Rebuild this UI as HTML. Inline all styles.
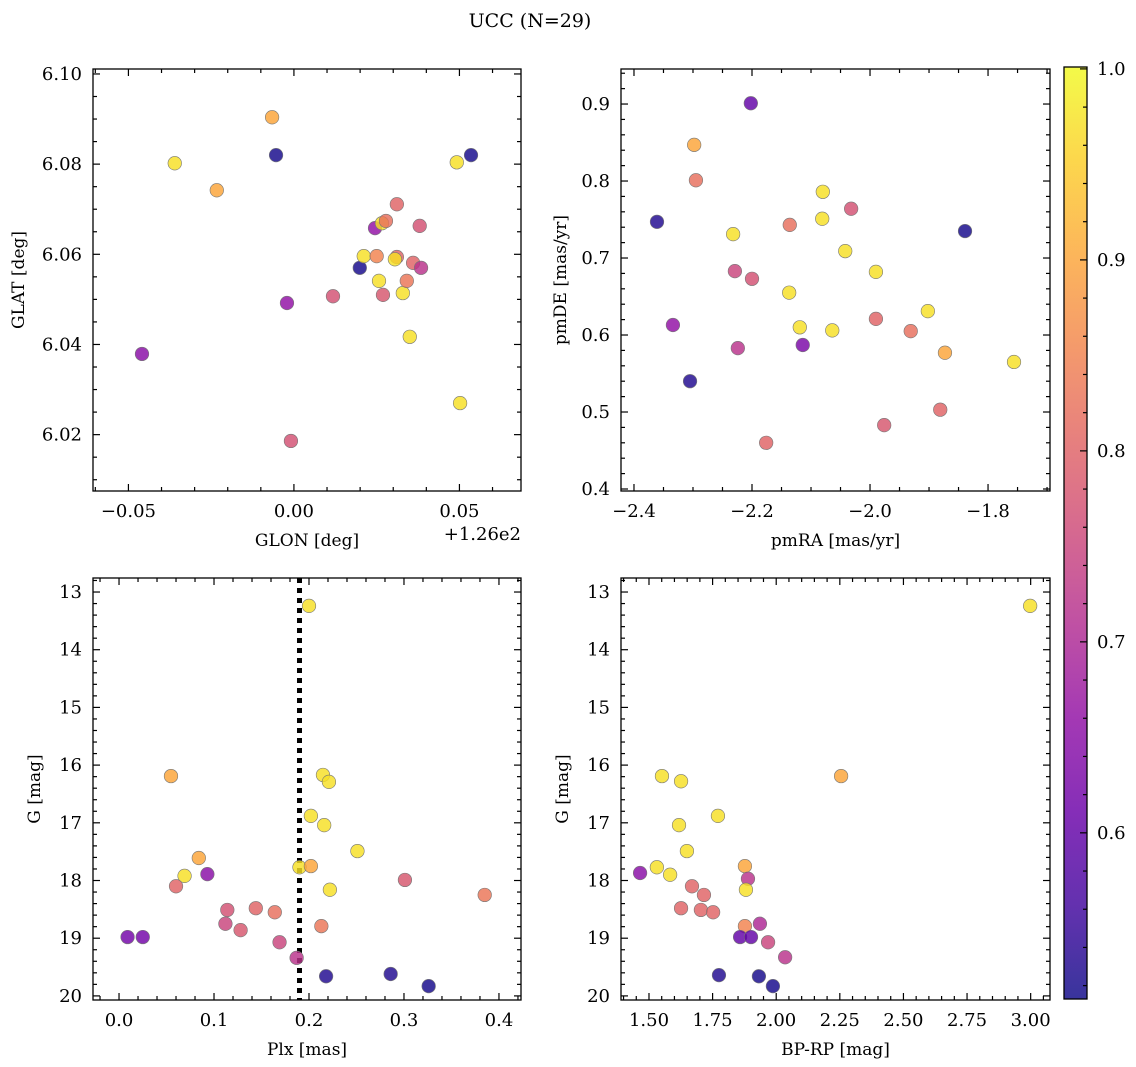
<!DOCTYPE html>
<html><head><meta charset="utf-8">
<style>
html,body{margin:0;padding:0;background:#fff;}
svg{display:block;font-family:"DejaVu Serif","Liberation Serif",serif;}
</style></head>
<body>
<svg id="chart" width="1136" height="1067" viewBox="0 0 1136 1067" xmlns="http://www.w3.org/2000/svg">
<text x="530" y="27" font-size="19" text-anchor="middle">UCC (N=29)</text>
</svg>
<script>
// Panel 1: GLON offset (deg, +126) vs GLAT
const p1x=[-0.036,-0.0233,-0.0066,-0.0054,-0.0459,-0.0021,-0.0009,0.0118,0.0199,0.0211,0.0245,0.025,0.0257,0.0266,0.0269,0.0278,0.0311,0.0311,0.0305,0.0329,0.0341,0.035,0.036,0.038,0.0384,0.0492,0.0535,0.0502];
const p1y=[6.0802,6.0742,6.0904,6.0820,6.0379,6.0492,6.0186,6.0507,6.0570,6.0596,6.0658,6.0596,6.0541,6.0669,6.0510,6.0674,6.0711,6.0594,6.0589,6.0514,6.0541,6.0417,6.0581,6.0663,6.0570,6.0804,6.0820,6.0270];
const p1c=[0.97,0.9,0.9,0.52,0.65,0.66,0.77,0.77,0.52,0.97,0.66,0.85,0.97,0.97,0.78,0.82,0.8,0.8,0.97,0.97,0.83,0.97,0.8,0.77,0.72,0.97,0.52,0.97];
// Panel 2: pmRA vs pmDE
const p2x=[-2.202,-2.298,-2.295,-2.361,-2.232,-2.229,-2.2,-2.224,-2.334,-2.305,-2.176,-2.136,-2.137,-2.119,-2.114,-2.080,-2.081,-2.032,-2.042,-2.064,-1.990,-1.990,-1.976,-1.931,-1.902,-1.873,-1.881,-1.839,-1.756];
const p2y=[0.901,0.847,0.801,0.747,0.731,0.683,0.673,0.583,0.613,0.540,0.460,0.743,0.655,0.610,0.587,0.786,0.751,0.764,0.709,0.606,0.682,0.621,0.483,0.605,0.631,0.577,0.503,0.735,0.565];
const p2c=[0.6,0.9,0.82,0.53,0.97,0.75,0.77,0.72,0.66,0.53,0.8,0.82,0.97,0.97,0.63,0.97,0.97,0.77,0.97,0.97,0.97,0.8,0.78,0.82,0.97,0.9,0.8,0.52,0.97];
// Panel 3: Plx vs G
const p3x=[0.2,0.0547,0.2147,0.221,0.202,0.216,0.251,0.084,0.069,0.093,0.06,0.19,0.202,0.222,0.301,0.385,0.114,0.144,0.164,0.112,0.128,0.213,0.169,0.009,0.025,0.187,0.218,0.286,0.326];
const p3y=[13.24,16.19,16.17,16.29,16.88,17.04,17.49,17.61,17.92,17.89,18.10,17.77,17.75,18.16,17.99,18.25,18.51,18.48,18.55,18.75,18.86,18.79,19.07,18.98,18.98,19.34,19.66,19.62,19.83];
const p3c=[0.97,0.9,0.97,0.97,0.97,0.97,0.97,0.9,0.97,0.65,0.8,0.97,0.9,0.97,0.78,0.83,0.77,0.8,0.82,0.75,0.78,0.83,0.75,0.62,0.62,0.72,0.53,0.53,0.52];
const plxLine=[0.19];
// Panel 4: BP-RP vs G
const p4x=[2.998,1.551,1.626,2.255,1.618,1.771,1.649,1.531,1.583,1.465,1.669,1.877,1.889,1.881,1.716,1.626,1.704,1.752,1.877,1.936,1.858,1.901,1.968,2.035,1.775,1.932,1.987];
const p4y=[13.24,16.19,16.28,16.19,17.04,16.88,17.49,17.77,17.90,17.87,18.10,17.75,17.97,18.16,18.25,18.48,18.51,18.55,18.79,18.75,18.98,18.98,19.07,19.33,19.64,19.66,19.83];
const p4c=[0.97,0.97,0.97,0.9,0.97,0.97,0.97,0.97,0.97,0.65,0.8,0.9,0.72,0.97,0.8,0.8,0.8,0.8,0.85,0.7,0.6,0.6,0.75,0.72,0.53,0.52,0.52];
const cbTicks=[0.6,0.7,0.8,0.9,1.0];

const NS="http://www.w3.org/2000/svg";
const svg=document.getElementById('chart');
const CMIN=0.513,CMAX=1.0;
const FS=18;
const plasma=[[13,8,135],[65,4,157],[106,0,168],[143,13,164],[177,42,144],[204,71,120],[225,100,98],[242,132,75],[252,166,54],[252,206,37],[240,249,33]];
function cmap(c){let t=(c-CMIN)/(CMAX-CMIN);t=Math.max(0,Math.min(1,t))*10;const i=Math.min(9,Math.floor(t));const f=t-i;const a=plasma[i],b=plasma[i+1];return `rgb(${a.map((v,k)=>Math.round(v+(b[k]-v)*f)).join(',')})`;}
function mk(tag,attrs,parent){const e=document.createElementNS(NS,tag);for(const k in attrs)e.setAttribute(k,attrs[k]);(parent||svg).appendChild(e);return e;}
function fmt(v,d){let s=v.toFixed(d);if(v<0)s='\u2212'+s.slice(1);return s;}

function panel(o){
  const g=mk('g',{});
  
  
  const X=v=>o.L+(v-o.x0)/(o.x1-o.x0)*(o.R-o.L);
  const Y=v=>o.T+(v-o.y0)/(o.y1-o.y0)*(o.B-o.T);
  function ticks(axis,min,max,step,minor,dec){
    const lo=Math.min(min,max),hi=Math.max(min,max);
    const ms=step/minor;
    for(let k=Math.ceil(lo/ms-1e-6);k*ms<=hi+1e-9;k++){
      const v=k*ms;const major=Math.abs(v/step-Math.round(v/step))<1e-6;const len=major?7:4;
      if(axis==='x'){const px=X(v);
        let t=mk('line',{x1:px,x2:px,y1:o.B,y2:o.B-len,stroke:'#000','stroke-width':1.2},g);
        
        t=mk('line',{x1:px,x2:px,y1:o.T,y2:o.T+len,stroke:'#000','stroke-width':1.2},g);
        
        if(major){const tx=mk('text',{x:px,y:o.B+26,'font-size':FS,'text-anchor':'middle'},g);tx.textContent=fmt(v,dec);
          }
      }else{const py=Y(v);
        let t=mk('line',{x1:o.L,x2:o.L+len,y1:py,y2:py,stroke:'#000','stroke-width':1.2},g);
        
        t=mk('line',{x1:o.R,x2:o.R-len,y1:py,y2:py,stroke:'#000','stroke-width':1.2},g);
        
        if(major){const tx=mk('text',{x:o.L-11,y:py+6,'font-size':FS,'text-anchor':'end'},g);tx.textContent=fmt(v,dec);
          }
      }
    }
  }
  ticks('x',o.x0,o.x1,o.xs,o.xm,o.xd);
  ticks('y',o.y0,o.y1,o.ys,o.ym,o.yd);
  if(o.vline){o.vline.forEach(v=>{const l=mk('line',{x1:X(v),x2:X(v),y1:o.T,y2:o.B,stroke:'#000','stroke-width':5,'stroke-dasharray':'5 5'},g);
    });}
  for(let i=0;i<o.xs_.length;i++){
    const c=mk('circle',{cx:X(o.xs_[i]),cy:Y(o.ys_[i]),r:6.8,fill:cmap(o.cs_[i]),'fill-opacity':0.82,stroke:'#777','stroke-width':0.6},g);
    
    
  }
  const fr=mk('rect',{x:o.L,y:o.T,width:o.R-o.L,height:o.B-o.T,fill:'none',stroke:'#000','stroke-width':1.3},g);
  
  const xl=mk('text',{x:(o.L+o.R)/2,y:o.B+55,'font-size':17,'text-anchor':'middle'},g);xl.textContent=o.xlab;
  
  const yx=o.L-o.ylo,yy=(o.T+o.B)/2;
  const yl=mk('text',{x:yx,y:yy,'font-size':17,'text-anchor':'middle',transform:`rotate(-90 ${yx} ${yy})`},g);yl.textContent=o.ylab;
  
  if(o.offset){const t=mk('text',{x:o.R,y:o.B+49,'font-size':FS,'text-anchor':'end'},g);t.textContent=o.offset;
    }
}

panel({name:'glon-glat-panel',L:93,R:521,T:69,B:491,x0:-0.0607,x1:0.0686,y0:6.1011,y1:6.0075,xs:0.05,xm:5,xd:2,ys:0.02,ym:4,yd:2,
  xs_:p1x,ys_:p1y,cs_:p1c,xlab:'GLON [deg]',ylab:'GLAT [deg]',ylo:69,offset:'+1.26e2'});
panel({name:'pm-panel',L:621,R:1050,T:69,B:491,x0:-2.422,x1:-1.695,y0:0.9455,y1:0.3974,xs:0.2,xm:4,xd:1,ys:0.1,ym:5,yd:1,
  xs_:p2x,ys_:p2y,cs_:p2c,xlab:'pmRA [mas/yr]',ylab:'pmDE [mas/yr]',ylo:55});
panel({name:'plx-g-panel',L:93,R:521,T:578,B:1000,x0:-0.0274,x1:0.4232,y0:12.757,y1:20.071,xs:0.1,xm:5,xd:1,ys:1,ym:5,yd:0,
  xs_:p3x,ys_:p3y,cs_:p3c,xlab:'Plx [mas]',ylab:'G [mag]',ylo:53,vline:plxLine});
panel({name:'cmd-panel',L:621,R:1050,T:578,B:1000,x0:1.390,x1:3.076,y0:12.757,y1:20.071,xs:0.25,xm:5,xd:2,ys:1,ym:5,yd:0,
  xs_:p4x,ys_:p4y,cs_:p4c,xlab:'BP-RP [mag]',ylab:'G [mag]',ylo:53});

(function(){
  const L=1064,R=1087,T=67,B=999,v0=1.001,v1=0.513;
  const Y=v=>T+(v-v0)/(v1-v0)*(B-T);
  const g=mk('g',{});
  
  
  const defs=mk('defs',{},g);
  const lg=mk('linearGradient',{id:'cbg',x1:0,y1:1,x2:0,y2:0},defs);
  for(let i=0;i<=20;i++){const c=CMIN+(CMAX-CMIN)*i/20;mk('stop',{offset:(i/20),'stop-color':cmap(c),'stop-opacity':0.82},lg);}
  const r=mk('rect',{x:L,y:T,width:R-L,height:B-T,fill:'url(#cbg)'},g);
  
  for(let k=26;k<=50;k++){const v=k*0.02;if(v<v1||v>v0)continue;const py=Y(v);const major=k%5===0;
    const t=mk('line',{x1:R,x2:R-(major?7:4),y1:py,y2:py,stroke:'#000','stroke-width':1.2},g);
    }
  cbTicks.forEach(v=>{const tx=mk('text',{x:R+10,y:Y(v)+6,'font-size':FS},g);tx.textContent=v.toFixed(1);
    });
  const fr=mk('rect',{x:L,y:T,width:R-L,height:B-T,fill:'none',stroke:'#000','stroke-width':1.3},g);
  
})();
</script>
</body></html>
